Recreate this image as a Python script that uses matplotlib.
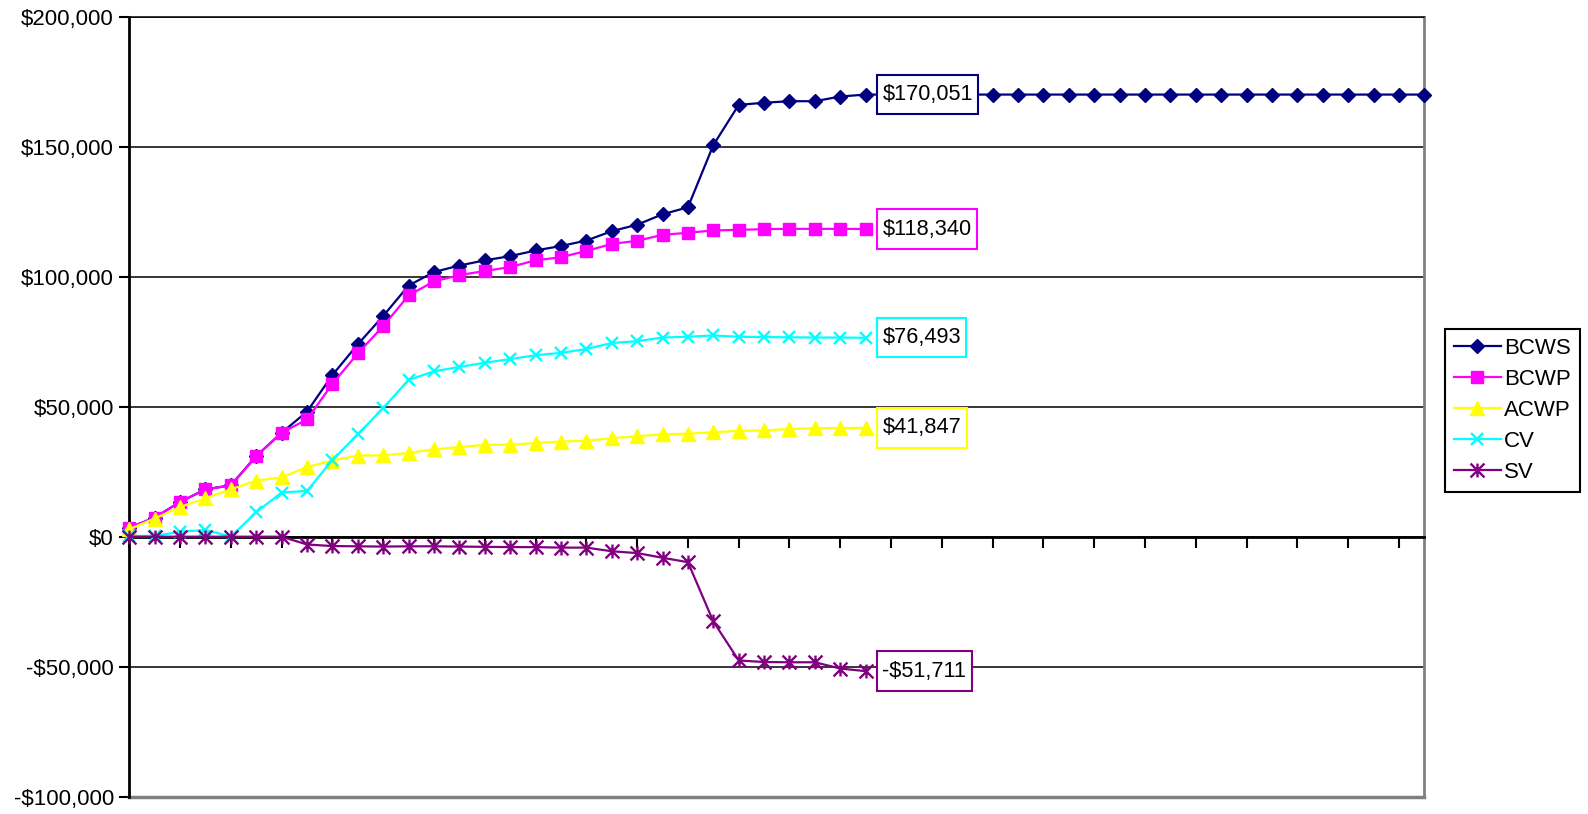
import matplotlib
matplotlib.use("Agg")
import matplotlib.pyplot as plt
from matplotlib.path import Path
from matplotlib.ticker import FuncFormatter

plt.rcParams['font.family'] = ['Liberation Sans', 'DejaVu Sans']

# Earned value figures per reporting period
bcws = [3500, 7300, 13400, 18200, 19800, 31000, 40000, 48100, 62200, 74000,
        84900, 96600, 101800, 104300, 106300, 107900, 110100, 111800, 113900, 117500,
        120000, 124000, 126700, 150600, 166100, 166900, 167500, 167500, 169300, 170051,
        170051, 170051, 170051, 170051, 170051, 170051, 170051, 170051, 170051, 170051,
        170051, 170051, 170051, 170051, 170051, 170051, 170051, 170051, 170051, 170051,
        170051, 170051]
bcwp = [3500, 7300, 13400, 18200, 19700, 31000, 40000, 45100, 58800, 70500,
        81000, 92800, 98200, 100600, 102200, 103700, 106300, 107500, 109900, 112600,
        113800, 116100, 116900, 117800, 118000, 118300, 118400, 118400, 118400, 118340]
acwp = [2900, 7000, 11400, 14800, 18200, 21600, 22800, 26800, 29300, 31200,
        31300, 32200, 33600, 34500, 35300, 35400, 36000, 36600, 36900, 37900,
        38600, 39400, 39600, 40200, 40700, 40900, 41400, 41700, 41800, 41847]
cv = [300, 300, 1900, 2600, 0, 9400, 17000, 17600, 29500, 39400,
      49500, 60300, 63600, 65300, 66900, 68300, 69800, 70700, 72200, 74500,
      75200, 76600, 76900, 77400, 76900, 76800, 76700, 76600, 76600, 76493]
sv = [0, 0, 0, 0, 0, 0, 0, -3000, -3600, -3700,
      -3800, -3700, -3700, -3800, -3900, -4000, -4000, -4200, -4200, -5600,
      -6300, -8100, -9800, -32600, -47600, -48200, -48300, -48300, -50700, -51711]

series_names = ['BCWS', 'BCWP', 'ACWP', 'CV', 'SV']
series_values = [bcws, bcwp, acwp, cv, sv]
label_index = 29

# asterisk marker: an x with a vertical bar through it
star = Path([(0, -1), (0, 1), (-1, -1), (1, 1), (-1, 1), (1, -1)],
            [Path.MOVETO, Path.LINETO, Path.MOVETO, Path.LINETO, Path.MOVETO, Path.LINETO])

styles = {
    'BCWS': dict(color='#000080', marker='D', ms=7, mew=1),
    'BCWP': dict(color='#FF00FF', marker='s', ms=8.5, mew=1),
    'ACWP': dict(color='#FFFF00', marker='^', ms=10, mew=1),
    'CV': dict(color='#00FFFF', marker='x', ms=9, mew=1.7),
    'SV': dict(color='#800080', marker=star, ms=10, mew=1.7),
}


def label_box(x0, y0, width, height, mutation_size):
    # plain rectangle, more padding top/bottom than left/right
    px = 0.25 * mutation_size
    py = 0.42 * mutation_size
    x0, y0 = x0 - px, y0 - py
    x1, y1 = x0 + width + 2 * px, y0 + height + 2 * py
    return Path([(x0, y0), (x1, y0), (x1, y1), (x0, y1), (x0, y0)],
                [Path.MOVETO, Path.LINETO, Path.LINETO, Path.LINETO, Path.CLOSEPOLY])


def money(v):
    return f"-${abs(int(v)):,}" if v < 0 else f"${int(v):,}"


fig = plt.figure(figsize=(15.88, 8.14), dpi=100)
ax = fig.add_axes([129.3 / 1588, 1 - 796.7 / 814, 1295 / 1588, 780 / 814])

for name, vals in zip(series_names, series_values):
    st = styles[name]
    ax.plot(range(len(vals)), vals, color=st['color'], lw=1.6, marker=st['marker'],
            markersize=st['ms'], markeredgewidth=st['mew'], markerfacecolor=st['color'],
            markeredgecolor=st['color'], label=name, clip_on=False, zorder=3)
    ax.annotate(money(vals[label_index]),
                xy=(label_index, vals[label_index]), xytext=(12, 0), textcoords='offset points',
                ha='left', va='center', fontsize=15.7, color='black', zorder=5,
                bbox=dict(boxstyle=label_box, fc='white', ec=st['color'], lw=1.5))

ax.set_xlim(0, 51)
ax.set_ylim(-100000, 200000)
ax.set_yticks(range(-100000, 200001, 50000))
ax.yaxis.set_major_formatter(FuncFormatter(lambda v, p: money(v)))
ax.set_xticks(range(0, 51, 2))
ax.set_xticklabels([])
ax.tick_params(axis='y', labelsize=16, length=7, width=1.5, direction='out', pad=4)
ax.tick_params(axis='x', length=8, width=1.5, direction='out')

ax.grid(axis='y', color='black', lw=1.1)
ax.set_axisbelow(True)

# category axis sits on the zero line
ax.spines['bottom'].set_position(('data', 0))
ax.spines['bottom'].set_linewidth(2)
ax.spines['left'].set_linewidth(2)
ax.spines['top'].set_linewidth(1.1)
ax.spines['right'].set_color('#808080')
ax.spines['right'].set_linewidth(2)
ax.plot([0, 1], [0, 0], transform=ax.transAxes, color='#808080', lw=2.5, clip_on=False, zorder=1)

fig.legend(loc='upper left', bbox_to_anchor=(1445 / 1588, 1 - 329 / 814), fontsize=16,
           frameon=True, fancybox=False, edgecolor='black', framealpha=1,
           handlelength=2.1, handletextpad=0.15, labelspacing=0.45, borderpad=0.4,
           borderaxespad=0)
fig.legends[0].get_frame().set_linewidth(1.5)

fig.savefig('out.png', dpi=100)
